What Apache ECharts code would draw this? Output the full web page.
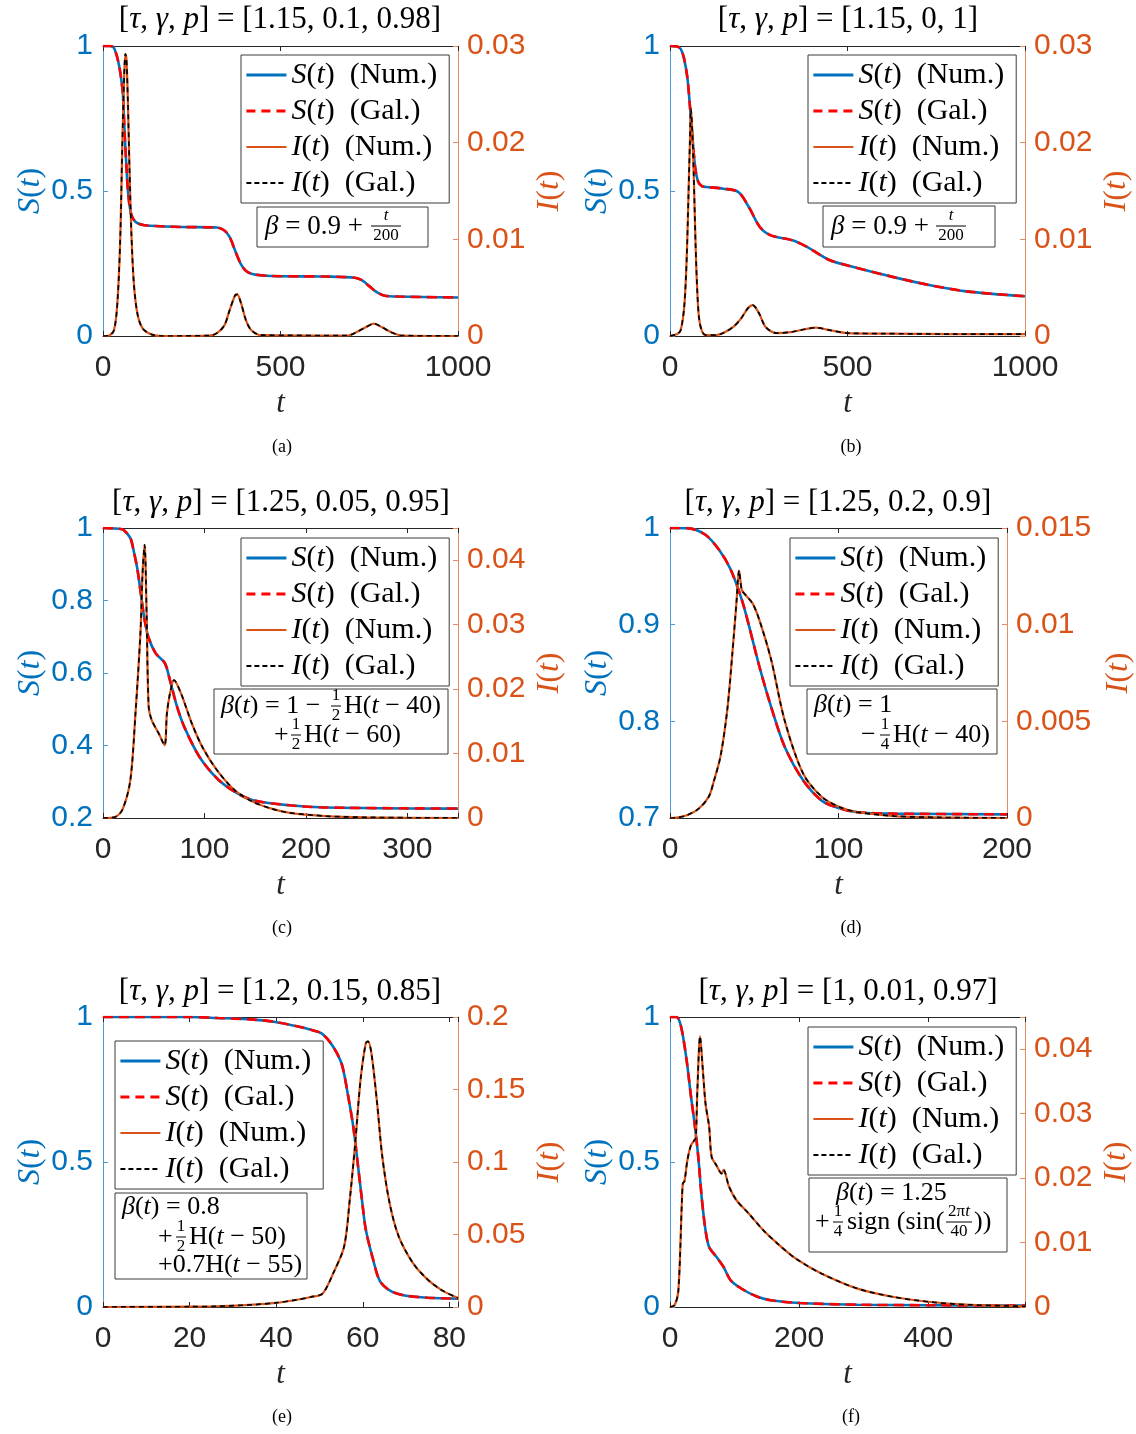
<!DOCTYPE html>
<html>
<head>
<meta charset="utf-8">
<title>S(t), I(t) panels</title>
<script src="https://cdn.jsdelivr.net/npm/echarts@6/dist/echarts.min.js"></script>
<style>
  html, body { margin: 0; padding: 0; background: #fff; }
  #chart { width: 1136px; height: 1434px; }
</style>
</head>
<body>
<div id="chart"></div>
<script>
// values (Num. and Gal. curves coincide, so they share data)
const tSa = [0, 20, 30, 38, 46, 52, 56, 61, 66, 71, 79, 92, 117, 219, 321, 342, 357, 372, 388, 403, 423, 474, 628, 709, 730, 750, 770, 791, 832, 1000]
const sA  = [1, 1, 0.995, 0.97, 0.928, 0.88, 0.836, 0.698, 0.583, 0.491, 0.422, 0.393, 0.382, 0.376, 0.374, 0.364, 0.341, 0.295, 0.249, 0.224, 0.213, 0.207, 0.205, 0.201, 0.192, 0.172, 0.152, 0.14, 0.136, 0.133]
const tIa = [0, 15, 31, 41, 49, 54, 59, 63, 66, 70, 74.5, 80, 87, 97, 112, 138, 168, 301, 321, 342, 357, 372, 378, 388, 403, 418, 444, 689, 719, 740, 763, 786, 811, 842, 1000]
const iA  = [0, 0.00003, 0.0006, 0.0037, 0.0106, 0.0192, 0.0261, 0.0292, 0.0287, 0.0244, 0.0175, 0.0106, 0.0054, 0.0023, 0.00076, 0.00014, 0, 0.00005, 0.0003, 0.0011, 0.0027, 0.0042, 0.0043, 0.0035, 0.0016, 0.0006, 0.0001, 0.00005, 0.0005, 0.0009, 0.00128, 0.0009, 0.0004, 0.00005, 0]

const tSb = [0, 20, 30, 39, 49, 57, 64, 71, 80, 90, 100, 150, 192, 222, 253, 284, 345, 386, 447, 498, 630, 733, 835, 1000]
const sB  = [1, 0.998, 0.99, 0.96, 0.89, 0.78, 0.675, 0.58, 0.53, 0.517, 0.514, 0.508, 0.497, 0.445, 0.376, 0.347, 0.33, 0.307, 0.263, 0.244, 0.203, 0.175, 0.154, 0.137]
const tIb = [0, 20, 30, 40, 47, 52, 56, 59, 63, 67, 72, 77, 82, 90, 100, 130, 150, 180, 200, 220, 233, 250, 270, 300, 340, 380, 411, 450, 500, 600, 800, 1000]
const iB  = [0, 0.0002, 0.0006, 0.003, 0.008, 0.0145, 0.02, 0.0235, 0.021, 0.0165, 0.0095, 0.0045, 0.0018, 0.0005, 0.0001, 0.0001, 0.0003, 0.001, 0.0018, 0.0029, 0.0032, 0.0024, 0.0009, 0.0003, 0.0004, 0.0007, 0.00086, 0.0006, 0.0003, 0.00025, 0.0002, 0.0002]

const tSc = [0, 15, 20, 27, 30, 34, 39, 41, 44.6, 52, 61, 66, 73, 80, 95, 112.5, 130, 148, 184, 220, 350]
const sC  = [1, 0.998, 0.995, 0.972, 0.94, 0.885, 0.783, 0.747, 0.70, 0.654, 0.627, 0.58, 0.507, 0.452, 0.369, 0.309, 0.272, 0.249, 0.235, 0.229, 0.226]
const tIc = [0, 12.5, 19.6, 27, 32, 37, 39, 41, 43, 45, 48, 55, 60.7, 63, 66, 70, 77, 87.5, 98, 112.5, 130, 148, 166, 184, 220, 260, 350]
const iC  = [0, 0.0002, 0.00145, 0.0059, 0.0162, 0.029, 0.038, 0.0424, 0.0318, 0.0173, 0.0152, 0.0131, 0.0113, 0.0162, 0.0193, 0.0214, 0.0193, 0.0147, 0.011, 0.0074, 0.0043, 0.0025, 0.00145, 0.0008, 0.0003, 0.0001, 0]

const tSd = [0, 10, 21, 29.7, 36, 42.6, 47, 53, 60, 68, 79, 90, 100.6, 111, 133, 200]
const sD  = [1, 0.9999, 0.993, 0.976, 0.957, 0.926, 0.898, 0.857, 0.815, 0.774, 0.739, 0.718, 0.710, 0.706, 0.7045, 0.7038]
const tId = [0, 4, 10, 17, 23, 26, 30, 34, 37, 39.4, 41, 42.6, 44.7, 49, 53, 60, 68, 79, 90, 100.6, 111, 133, 160, 200]
const iD  = [0, 0.00002, 0.00014, 0.00048, 0.0011, 0.0019, 0.0032, 0.0056, 0.0085, 0.0111, 0.0128, 0.0118, 0.01155, 0.0111, 0.01025, 0.0082, 0.00506, 0.0023, 0.0011, 0.00057, 0.00031, 0.0001, 0.00003, 0]

const tSe = [0, 20, 26.4, 34.8, 39.8, 44.8, 48, 50.3, 52.3, 54, 55.3, 56.5, 57.8, 59, 59.9, 60.7, 62.4, 64, 66.6, 70, 75, 82]
const sE  = [1, 1, 0.9966, 0.991, 0.983, 0.968, 0.956, 0.945, 0.916, 0.876, 0.83, 0.738, 0.623, 0.474, 0.359, 0.267, 0.163, 0.0885, 0.054, 0.039, 0.032, 0.029]
const tIe = [0, 20, 26.4, 34.8, 39.8, 44.8, 48, 50.7, 53.2, 55.7, 57, 58.2, 59.5, 60.7, 61.2, 62, 63.3, 64.5, 66.2, 68.3, 71.6, 75, 78.3, 82]
const iE  = [0, 0.0002, 0.0005, 0.0016, 0.0028, 0.005, 0.0069, 0.0092, 0.0234, 0.0418, 0.074, 0.111, 0.157, 0.182, 0.1832, 0.175, 0.141, 0.104, 0.0717, 0.0487, 0.0303, 0.0189, 0.0115, 0.0062]

const tSf = [0, 10, 15.7, 21, 27, 32.5, 38, 43.8, 49, 55, 60.6, 71.8, 83, 94, 111, 133.5, 156, 201, 290.6, 403, 550]
const sF  = [1, 1, 0.979, 0.922, 0.83, 0.726, 0.634, 0.518, 0.38, 0.265, 0.207, 0.173, 0.138, 0.092, 0.063, 0.037, 0.023, 0.0138, 0.008, 0.006, 0.005]
const tIf = [0, 7.3, 13, 18.5, 20, 22.4, 27, 32.5, 38, 40, 42.6, 46.6, 50.5, 55, 60.6, 64.5, 71.8, 80, 83, 91.4, 102.7, 122, 144.7, 167, 195, 234.5, 290.6, 346.7, 403, 459, 550]
const iF  = [0, 0.0003, 0.0026, 0.0166, 0.0192, 0.0195, 0.0228, 0.0251, 0.0259, 0.0262, 0.0342, 0.042, 0.0373, 0.0316, 0.028, 0.0233, 0.022, 0.0207, 0.0213, 0.0187, 0.0166, 0.0145, 0.0119, 0.0098, 0.0075, 0.0052, 0.00285, 0.00155, 0.00078, 0.00036, 0.0001]

// axis ranges and tick steps
const xMax  = [1000, 1000, 350, 200, 82, 550]
const xStep = [500, 500, 100, 100, 20, 200]
const sMin  = [0, 0, 0.2, 0.7, 0, 0]
const sStep = [0.5, 0.5, 0.2, 0.1, 0.5, 0.5]
const iMax  = [0.03, 0.03, 0.045, 0.015, 0.2, 0.045]
const iStep = [0.01, 0.01, 0.01, 0.005, 0.05, 0.01]
const params = ['1.15, 0.1, 0.98', '1.15, 0, 1', '1.25, 0.05, 0.95', '1.25, 0.2, 0.9', '1.2, 0.15, 0.85', '1, 0.01, 0.97']
const captions = ['(a)', '(b)', '(c)', '(d)', '(e)', '(f)']

const tS = [tSa, tSb, tSc, tSd, tSe, tSf]
const sV = [sA, sB, sC, sD, sE, sF]
const tI = [tIa, tIb, tIc, tId, tIe, tIf]
const iV = [iA, iB, iC, iD, iE, iF]

// layout (pixels)
const grids = [
  { left: 103, top: 46, width: 355, height: 290 },
  { left: 670, top: 46, width: 355, height: 290 },
  { left: 103, top: 528, width: 355, height: 290 },
  { left: 670, top: 528, width: 337, height: 290 },
  { left: 103, top: 1017, width: 355, height: 290 },
  { left: 670, top: 1017, width: 355, height: 290 }
]
const titleX = [280, 848, 281, 838, 280, 848]
const titleY = [20, 20, 503, 503, 992, 992]
const capX = [282, 851, 282, 851, 282, 851]
const capY = [447, 447, 928, 928, 1417, 1417]
const legendPos = [[241, 55], [808, 55], [241, 538], [790, 538], [115, 1041], [808, 1027]]
const rightNameGap = [76, 76, 76, 96, 76, 76]

const SERIF = '"Liberation Serif", "Times New Roman", serif'
const SANS = '"Liberation Sans", Arial, sans-serif'
const BLUE = '#0072BD', ORANGE = '#D95319', DARK = '#262626'

const fmt = v => String(+v.toFixed(4))
const onStep = (v, min, step) => Math.abs((v - min) / step - Math.round((v - min) / step)) < 1e-6
const italic = (size, color) => ({ i: { fontStyle: 'italic', fontFamily: SERIF, fontSize: size, color: color } })

const pairs = (ts, vs) => ts.map((t, j) => [t, vs[j]])

const chart = echarts.init(document.getElementById('chart'))

const xAxes = [], yAxes = [], series = [], legends = [], graphics = []

grids.forEach((g, k) => {
  const xBase = {
    gridIndex: k, type: 'value', min: 0, max: xMax[k], interval: xStep[k],
    splitLine: { show: false },
    axisLine: { onZero: false, lineStyle: { color: DARK, width: 1 } },
    axisTick: { inside: true, length: 5, lineStyle: { color: DARK } }
  }
  xAxes.push(Object.assign({}, xBase, {
    position: 'bottom',
    axisLabel: {
      color: DARK, fontSize: 30, fontFamily: SANS, margin: 17,
      formatter: v => onStep(v, 0, xStep[k]) ? fmt(v) : ''
    },
    name: '{i|t}', nameLocation: 'middle', nameGap: 52,
    nameTextStyle: { fontSize: 31, fontFamily: SERIF, color: DARK, rich: italic(31, DARK) }
  }))
  xAxes.push(Object.assign({}, xBase, { position: 'top', axisLabel: { show: false } }))

  yAxes.push({
    gridIndex: k, type: 'value', position: 'left', min: sMin[k], max: 1, interval: sStep[k],
    splitLine: { show: false },
    axisLine: { show: true, onZero: false, lineStyle: { color: '#4f9bd5', width: 1 } },
    axisTick: { show: true, inside: true, length: 5, lineStyle: { color: '#4f9bd5' } },
    axisLabel: { color: BLUE, fontSize: 30, fontFamily: SANS, margin: 10, formatter: v => fmt(v) },
    name: '{i|S}({i|t})', nameLocation: 'middle', nameRotate: 90, nameGap: 56,
    nameTextStyle: { fontSize: 32, fontFamily: SERIF, color: BLUE, rich: italic(32, BLUE) }
  })
  yAxes.push({
    gridIndex: k, type: 'value', position: 'right', min: 0, max: iMax[k], interval: iStep[k],
    splitLine: { show: false },
    axisLine: { show: true, onZero: false, lineStyle: { color: '#e48c64', width: 1 } },
    axisTick: { show: true, inside: true, length: 5, lineStyle: { color: '#e48c64' } },
    axisLabel: {
      color: ORANGE, fontSize: 30, fontFamily: SANS, margin: 9,
      formatter: v => onStep(v, 0, iStep[k]) ? fmt(v) : ''
    },
    name: '{i|I}({i|t})', nameLocation: 'middle', nameRotate: 90, nameGap: rightNameGap[k],
    nameTextStyle: { fontSize: 32, fontFamily: SERIF, color: ORANGE, rich: italic(32, ORANGE) }
  })

  const common = { type: 'line', symbol: 'none', smooth: 0.3, xAxisIndex: 2 * k, animation: false }
  series.push(Object.assign({}, common, {
    name: 'sNum', yAxisIndex: 2 * k, data: pairs(tS[k], sV[k]),
    itemStyle: { color: BLUE }, lineStyle: { color: BLUE, width: 2.6 }
  }))
  series.push(Object.assign({}, common, {
    name: 'sGal', yAxisIndex: 2 * k, data: pairs(tS[k], sV[k]),
    itemStyle: { color: '#FF0000' }, lineStyle: { color: '#FF0000', width: 2.6, type: [10, 6] }
  }))
  series.push(Object.assign({}, common, {
    name: 'iNum', yAxisIndex: 2 * k + 1, data: pairs(tI[k], iV[k]),
    itemStyle: { color: ORANGE }, lineStyle: { color: ORANGE, width: 2.2 }
  }))
  series.push(Object.assign({}, common, {
    name: 'iGal', yAxisIndex: 2 * k + 1, data: pairs(tI[k], iV[k]),
    itemStyle: { color: '#000' }, lineStyle: { color: '#000', width: 1.7, type: [5, 4] }
  }))

  legends.push({
    orient: 'vertical', left: legendPos[k][0], top: legendPos[k][1],
    data: [
      { name: 'sNum', lineStyle: { width: 2.8, color: BLUE, type: 'solid' } },
      { name: 'sGal', lineStyle: { width: 2.8, color: '#FF0000', type: [9, 6] } },
      { name: 'iNum', lineStyle: { width: 2, color: ORANGE, type: 'solid' } },
      { name: 'iGal', lineStyle: { width: 1.8, color: '#000', type: [5, 3] } }
    ],
    selectedMode: false, itemWidth: 40, itemHeight: 12, itemGap: 6,
    padding: [5, 12, 5, 4],
    itemStyle: { opacity: 0, borderWidth: 0 },
    backgroundColor: '#fff', borderColor: '#3a3a3a', borderWidth: 1, borderRadius: 0,
    formatter: n => ({
      sNum: '{i|S}({i|t})  (Num.)', sGal: '{i|S}({i|t})  (Gal.)',
      iNum: '{i|I}({i|t})  (Num.)', iGal: '{i|I}({i|t})  (Gal.)'
    })[n],
    textStyle: { color: '#000', fontSize: 30, fontFamily: SERIF, lineHeight: 30, rich: italic(30, '#000') }
  })

  graphics.push(text(titleX[k], titleY[k], '[{i|τ}, {i|γ}, {i|p}] = [' + params[k] + ']', 31, 'center'))
  graphics.push(text(capX[k], capY[k], captions[k], 18, 'center'))
})

function text(x, y, s, size, align) {
  return {
    type: 'text', x: x, y: y, z: 100,
    style: {
      text: s, fill: '#000', fontSize: size || 26, fontFamily: SERIF,
      align: align || 'left', verticalAlign: 'middle', rich: italic(size || 26, '#000')
    }
  }
}
function frac(x, y, num, den, w) {
  return [
    text(x, y - 10, num, 17, 'center'),
    { type: 'line', z: 100, shape: { x1: x - w / 2, y1: y, x2: x + w / 2, y2: y }, style: { stroke: '#000', lineWidth: 1 } },
    text(x, y + 10, den, 17, 'center')
  ]
}
function box(x, y, w, h) {
  return { type: 'rect', z: 99, shape: { x: x, y: y, width: w, height: h }, style: { fill: '#fff', stroke: '#3a3a3a', lineWidth: 1 } }
}

// beta(t) annotation boxes
graphics.push(
  box(257, 207, 171, 40), text(265, 227, '{i|β} = 0.9 +', 27), ...frac(386, 226, '{i|t}', '200', 30),
  box(823, 206, 172, 41), text(831, 227, '{i|β} = 0.9 +', 27), ...frac(951, 226, '{i|t}', '200', 30),
  box(214, 689, 234, 65), text(221, 706, '{i|β}({i|t}) = 1 −'), ...frac(336, 706, '1', '2', 10), text(344, 706, 'H({i|t} − 40)'),
  text(274, 735, '+'), ...frac(296, 735, '1', '2', 10), text(304, 735, 'H({i|t} − 60)'),
  box(807, 689, 190, 65), text(814, 705, '{i|β}({i|t}) = 1'),
  text(861, 735, '−'), ...frac(885, 735, '1', '4', 10), text(893, 735, 'H({i|t} − 40)'),
  box(115, 1193, 192, 86), text(122, 1207, '{i|β}({i|t}) = 0.8'),
  text(158, 1237, '+'), ...frac(181, 1237, '1', '2', 10), text(189, 1237, 'H({i|t} − 50)'),
  text(158, 1265, '+0.7H({i|t} − 55)'),
  box(809, 1178, 198, 74), text(836, 1193, '{i|β}({i|t}) = 1.25'),
  text(815, 1222, '+'), ...frac(838, 1222, '1', '4', 10), text(847, 1222, 'sign (sin('), ...frac(959, 1222, '2π{i|t}', '40', 26), text(974, 1222, '))')
)

chart.setOption({
  animation: false,
  backgroundColor: '#fff',
  grid: grids.map(g => Object.assign({ containLabel: false }, g)),
  xAxis: xAxes,
  yAxis: yAxes,
  legend: legends,
  series: series,
  graphic: { elements: graphics }
})
</script>
</body>
</html>
